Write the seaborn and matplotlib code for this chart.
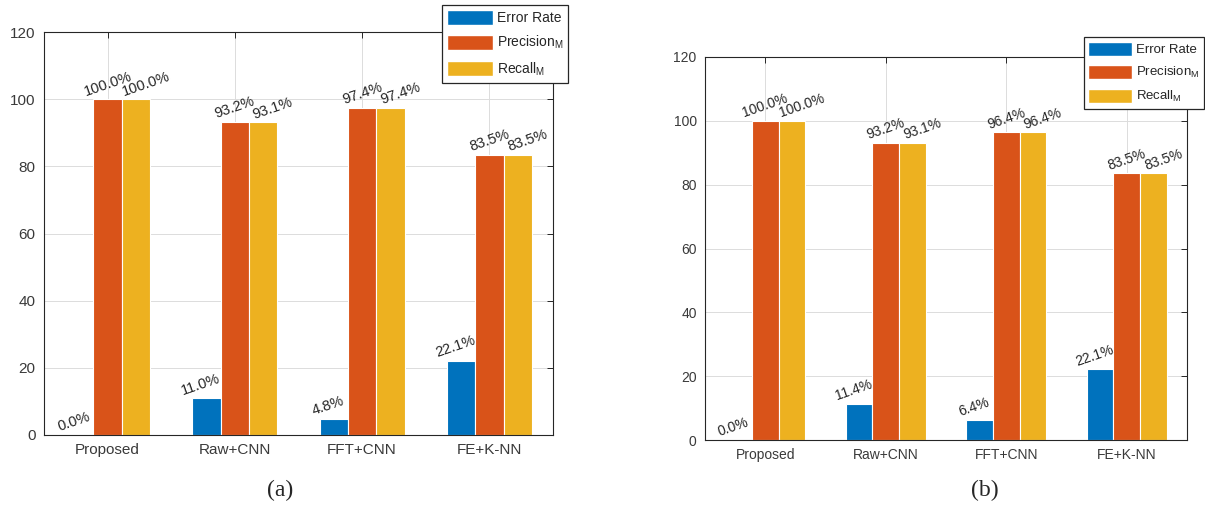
import numpy as np
import pandas as pd
import matplotlib
matplotlib.use("Agg")
import matplotlib.pyplot as plt
from matplotlib.patches import Patch
import seaborn as sns

# Methods compared on the x axis
methods = ["Proposed", "Raw+CNN", "FFT+CNN", "FE+K-NN"]
metrics = ["Error Rate", "Precision", "Recall"]

# Panel (a)
error_a = [0.0, 11.0, 4.8, 22.1]
precision_a = [100.0, 93.2, 97.4, 83.5]
recall_a = [100.0, 93.1, 97.4, 83.5]

# Panel (b)
error_b = [0.0, 11.4, 6.4, 22.1]
precision_b = [100.0, 93.2, 96.4, 83.5]
recall_b = [100.0, 93.1, 96.4, 83.5]

yticks = [0, 20, 40, 60, 80, 100, 120]
colors = ["#0072BD", "#D95319", "#EDB120"]
legend_labels = ["Error Rate", r"Precision$_{M}$", r"Recall$_{M}$"]

sns.set_style("white")
plt.rcParams["font.family"] = ["Liberation Sans", "DejaVu Sans"]
plt.rcParams["mathtext.default"] = "regular"

W, H = 1205, 508
fig = plt.figure(figsize=(W / 100, H / 100), dpi=100)


def long_frame(err, prec, rec):
    rows = []
    for name, vals in zip(metrics, [err, prec, rec]):
        for m, v in zip(methods, vals):
            rows.append({"method": m, "metric": name, "value": v})
    return pd.DataFrame(rows)


def draw_panel(ax, err, prec, rec, tick_fs, label_fs):
    df = long_frame(err, prec, rec)
    sns.barplot(data=df, x="method", y="value", hue="metric",
                order=methods, hue_order=metrics, palette=colors,
                width=0.667, edgecolor="white", linewidth=0.8,
                saturation=1, legend=False, ax=ax, errorbar=None)
    ax.set_xlim(-0.5, 3.5)
    ax.set_ylim(0, 120)
    ax.set_yticks(yticks)
    ax.set_xlabel("")
    ax.set_ylabel("")
    ax.grid(True, color="#dcdcdc", linewidth=0.7)
    ax.set_axisbelow(True)
    ax.tick_params(direction="in", top=True, right=True, length=4,
                   width=0.7, colors="#262626", labelsize=tick_fs,
                   labelcolor="#3a3a3a", pad=6)
    for sp in ax.spines.values():
        sp.set_visible(True)
        sp.set_color("#262626")
        sp.set_linewidth(0.8)
    offsets = [-4, 0, 7]
    for cont, vals, dx in zip(ax.containers, [err, prec, rec], offsets):
        for bar, v in zip(cont, vals):
            ax.annotate(f"{v:.1f}%",
                        xy=(bar.get_x() + bar.get_width() / 2, v),
                        xytext=(dx, 0.5), textcoords="offset points",
                        rotation=19, ha="center", va="bottom",
                        fontsize=label_fs, color="#262626")


def add_legend(right_px, top_px, fs):
    handles = [Patch(facecolor=c, edgecolor="white") for c in colors]
    leg = fig.legend(handles, legend_labels, loc="upper right",
                     bbox_to_anchor=(right_px / W, 1 - top_px / H),
                     bbox_transform=fig.transFigure, fontsize=fs,
                     frameon=True, fancybox=False, borderaxespad=0,
                     handlelength=3.3, handleheight=1.25,
                     labelspacing=0.65, handletextpad=0.3,
                     borderpad=0.35)
    fr = leg.get_frame()
    fr.set_edgecolor("#262626")
    fr.set_linewidth(0.9)
    fr.set_alpha(1)


def px_axes(left, right, top, bottom):
    return fig.add_axes([left / W, 1 - bottom / H,
                         (right - left) / W, (bottom - top) / H])


ax_a = px_axes(44, 553, 32, 435)
draw_panel(ax_a, error_a, precision_a, recall_a, 11, 10.5)
add_legend(568, 5, 10)

ax_b = px_axes(705, 1187, 57, 440)
draw_panel(ax_b, error_b, precision_b, recall_b, 10, 10)
add_legend(1204, 37, 9.5)

fig.text(280 / W, 1 - 490 / H, "(a)", ha="center", va="center",
         fontsize=17, family=["Liberation Serif", "DejaVu Serif"])
fig.text(985 / W, 1 - 490 / H, "(b)", ha="center", va="center",
         fontsize=17, family=["Liberation Serif", "DejaVu Serif"])

fig.savefig("out.png", dpi=100)
